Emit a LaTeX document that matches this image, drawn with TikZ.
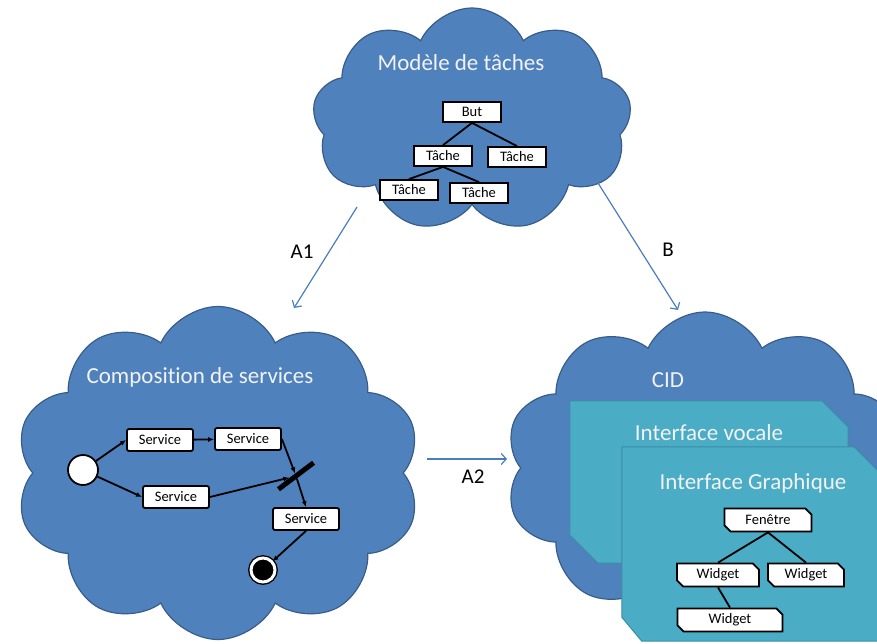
\documentclass[tikz,border=0pt]{standalone}
\usepackage{fontspec}
\setmainfont{Carlito}[Ligatures=NoCommon]
\usetikzlibrary{positioning, arrows.meta, shapes.symbols, shapes.misc}
\usepackage{xcolor}
\definecolor{cloudblue}{HTML}{4F81BD}
\definecolor{cloudedge}{HTML}{385D8A}
\definecolor{panelteal}{HTML}{4BACC6}
\definecolor{paneledge}{HTML}{3C8DA3}
\definecolor{flowblue}{HTML}{4A7EBB}
\definecolor{titlewhite}{HTML}{F2F2F2}

\begin{document}
\begin{tikzpicture}[
                x=1pt, y=-1pt,
                >={Latex[width=5pt,length=6pt]},
                cloudbox/.style={cloud, cloud puffs=10, cloud puff arc=130, cloud ignores aspect, draw=cloudedge, fill=cloudblue, line width=1.2pt, inner sep=0pt},
                panel/.style={draw=paneledge, fill=panelteal, line width=1pt},
                frame/.style={rectangle, inner sep=0pt},
                title/.style={text=titlewhite, font=\fontsize{23}{27}\selectfont},
                arclabel/.style={font=\fontsize{21}{25}\selectfont},
                tache/.style={rectangle, draw, fill=white, line width=1.8pt, minimum width=58pt, minimum height=20pt, inner sep=1pt, font=\fontsize{14.5}{17}\selectfont},
                service/.style={tache, rounded corners=2pt, minimum width=66pt, minimum height=22pt},
                widget/.style={tache, chamfered rectangle, chamfered rectangle corners={north east, south west}, chamfered rectangle xsep=3pt, minimum height=23pt},
                flow/.style={draw=flowblue, line width=1.2pt, -{Straight Barb[length=5pt,width=11pt]}},
                line/.style={draw, line width=1.8pt, ->},
                tree/.style={draw, line width=1.8pt},
                ]

                \clip (0,0) rectangle (877,643);

                % Three clouds
                \node [cloudbox, cloud puffs=9, minimum width=319pt, minimum height=224pt] (taches) at (472,120) {};
                \node [cloudbox, minimum width=406pt, minimum height=333pt] (compo) at (218,473) {};
                \node [cloudbox, minimum width=400pt, minimum height=312pt] (cid) at (705,468) {};

                \node [title] (tachesTitle) at (461,63) {Modèle de tâches};
                \node [title] (compoTitle) at (200,377) {Composition de services};
                \node [title] (cidTitle) at (668,380) {CID};

                % Task tree
                \node [tache] (but) at (472,112) {But};
                \node [tache] (tacheL) at (443,156) {Tâche};
                \node [tache] (tacheR) at (517,157) {Tâche};
                \node [tache] (tacheLL) at (409,190) {Tâche};
                \node [tache] (tacheLR) at (479,193) {Tâche};

                \draw[tree] (but.south) -- (tacheL.north);
                \draw[tree] (but.south) -- (tacheR.north);
                \draw[tree] (tacheL.south) -- (tacheLL.north);
                \draw[tree] (tacheL.south) -- (tacheLR.north);

                % Service composition
                \node [circle, draw, fill=white, line width=1.8pt, minimum size=30pt] (debut) at (83,470) {};
                \node [service] (service1) at (160,440) {Service};
                \node [service] (service2) at (248,439) {Service};
                \node [service] (service3) at (176,497) {Service};
                \node [service] (service4) at (306,519) {Service};
                \node [fill=black, minimum width=44pt, minimum height=5pt, inner sep=0pt, rotate=37] (join) at (296,476) {};
                \node [circle, draw, fill=black, double=white, double distance=3pt, line width=1.4pt, minimum size=24pt] (fin) at (263,570) {};

                \draw[line] (debut) -- (service1.west);
                \draw[line] (debut) -- (service3.west);
                \draw[line] (service1) -- (service2);
                \draw[line] (service2.east) -- (join);
                \draw[line] (service3.east) -- (join);
                \draw[line] (join) -- (service4.north);
                \draw[line] (service4.south) -- (fin);

                % Interfaces, corners cut at top right and bottom left
                \node [frame, minimum width=278pt, minimum height=162pt] (vocale) at (709,482) {};
                \path[panel] (vocale.north west) -- ([xshift=-26pt]vocale.north east) -- ([yshift=-26pt]vocale.north east)
                        -- (vocale.south east) -- ([xshift=28pt]vocale.south west) -- ([yshift=28pt]vocale.south west) -- cycle;
                \node [title] (vocaleTitle) at (709,433) {Interface vocale};

                \node [frame, minimum width=256pt, minimum height=194pt] (graphique) at (750,544) {};
                \path[panel] (graphique.north west) -- ([xshift=-24pt]graphique.north east) -- ([yshift=-24pt]graphique.north east)
                        -- (graphique.south east) -- ([xshift=20pt]graphique.south west) -- ([yshift=24pt]graphique.south west) -- cycle;
                \node [title] (graphiqueTitle) at (753,483) {Interface Graphique};

                \node [widget, minimum width=87pt] (fenetre) at (768,520) {Fenêtre};
                \node [widget, minimum width=82pt] (widgetL) at (718,575) {Widget};
                \node [widget, minimum width=76pt] (widgetR) at (806,575) {Widget};
                \node [widget, minimum width=105pt] (widgetB) at (730,620) {Widget};

                \draw[tree] (fenetre.south) -- (widgetL.north);
                \draw[tree] (fenetre.south) -- (widgetR.north);
                \draw[tree] (widgetL.south) -- (widgetB.north);

                % Transformations between the models
                \coordinate (a1Start) at (357,207);
                \coordinate (a1End) at (294,308);
                \coordinate (bStart) at (598,183);
                \coordinate (bEnd) at (678,310);
                \coordinate (a2Start) at (427,459);
                \coordinate (a2End) at (507,459);

                \draw[flow] (a1Start) -- (a1End);
                \draw[flow] (bStart) -- (bEnd);
                \draw[flow] (a2Start) -- (a2End);

                \node [arclabel] (a1) at (302,252) {A1};
                \node [arclabel] (b) at (668,250) {B};
                \node [arclabel] (a2) at (473,477) {A2};

            \end{tikzpicture}
\end{document}
